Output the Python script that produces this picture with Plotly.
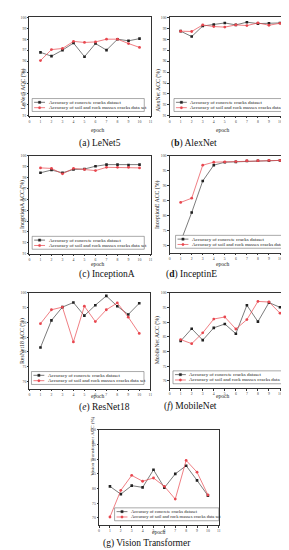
import plotly.graph_objects as go

epochs = list(range(1, 11))

lenet5_concrete = [96.8, 96.45, 97.0, 97.65, 96.4, 97.6, 97.0, 98.0, 97.85, 98.05]
lenet5_soil = [96.05, 97.05, 97.15, 97.8, 97.7, 97.75, 98.0, 98.0, 97.6, 97.25]
alexnet_concrete = [98.73, 98.24, 99.2, 99.33, 99.48, 99.3, 99.55, 99.42, 99.45, 99.48]
alexnet_soil = [98.73, 98.7, 99.3, 99.15, 99.1, 99.3, 99.24, 99.48, 99.27, 99.45]
inceptiona_concrete = [98.45, 98.7, 98.45, 98.75, 98.8, 99.05, 99.2, 99.2, 99.15, 99.2]
inceptiona_soil = [98.9, 98.85, 98.35, 98.85, 98.75, 98.65, 98.95, 98.95, 98.95, 98.9]
inceptione_concrete = [71.2, 81.0, 91.6, 96.9, 97.9, 98.0, 98.3, 98.4, 98.4, 98.5]
inceptione_soil = [84.4, 85.8, 96.9, 97.9, 98.0, 98.1, 98.4, 98.4, 98.5, 98.5]
resnet18_concrete = [81.5, 90.7, 95.2, 96.75, 92.3, 95.85, 99.0, 95.5, 92.7, 96.5]
resnet18_soil = [89.6, 94.3, 95.2, 83.4, 95.5, 90.3, 94.3, 96.6, 91.8, 86.3]
mobilenet_concrete = [83.6, 87.8, 83.9, 88.1, 89.4, 86.1, 95.8, 90.2, 96.7, 95.1]
mobilenet_soil = [84.1, 82.7, 86.4, 91.1, 91.8, 87.7, 90.9, 97.1, 96.9, 93.1]
vit_concrete = [80.75, 78.1, 81.0, 80.4, 86.4, 80.3, 85.0, 87.8, 82.8, 77.6]
vit_soil = [70.3, 79.4, 84.5, 82.5, 83.6, 80.75, 76.4, 89.6, 85.6, 77.8]

x_ticks = list(range(0, 12))
series_names = ["Accuracy of concrete cracks dataset",
                "Accuracy of soil and rock masses cracks data set"]

panels = [
    dict(c=lenet5_concrete, s=lenet5_soil, ytitle="LeNet5 ACC (%)", cap="(a) LeNet5",
         rng=[91, 100], dt=1, fx=(20.7, 143), fy=(7.3, 106.7), leg=2.7, epy=116.5, capy=127.5,
         tf=5.8, lf=5.0),
    dict(c=alexnet_concrete, s=alexnet_soil, ytitle="AlexNet ACC (%)", cap="(<b>b</b>) AlexNet",
         rng=[91, 100], dt=1, fx=(162.3, 285.0), fy=(7.3, 106.7), leg=4.4, epy=116.5, capy=127.5,
         tf=5.8, lf=5.0),
    dict(c=inceptiona_concrete, s=inceptiona_soil, ytitle="InceptionA ACC (%)", cap="(c) InceptionA",
         rng=[91, 100], dt=1, fx=(20.7, 143), fy=(147, 245.5), leg=2.7, epy=255.5, capy=266.5,
         tf=5.8, lf=5.0),
    dict(c=inceptione_concrete, s=inceptione_soil, ytitle="InceptionE ACC (%)", cap="(<b>d</b>) InceptinE",
         rng=[67.5, 100], dt=5, fx=(162.3, 285.0), fy=(147, 244.5), leg=6.0, epy=255.5, capy=266.5,
         tf=5.8, lf=5.0),
    dict(c=resnet18_concrete, s=resnet18_soil, ytitle="ResNet18 ACC (%)", cap="(<i>e</i>) ResNet18",
         rng=[67.5, 100], dt=5, fx=(20.7, 142.7), fy=(285, 381.7), leg=2.0, epy=392.5, capy=406.5,
         tf=5.8, lf=5.0),
    dict(c=mobilenet_concrete, s=mobilenet_soil, ytitle="MobileNet ACC (%)", cap="(<i>f</i>) MobileNet",
         rng=[67.5, 100], dt=5, fx=(162.3, 285.0), fy=(285, 381), leg=3.4, epy=392.5, capy=406,
         tf=5.8, lf=5.0),
    dict(c=vit_concrete, s=vit_soil, ytitle="Vision Transformer ACC (%)", cap="(g) Vision Transformer",
         rng=[67.5, 100], dt=5, fx=(91, 212), fy=(423, 519), leg=15.7, epy=530, capy=543.5,
         tf=5.0, lf=4.6),
]

W, H = 289, 550
FONT = "Liberation Serif"
BLACK = "#222222"
RED = "#e8474f"


def px(x):
    return x / W


def py(y):
    return 1 - y / H


fig = go.Figure()
layout = {}
annotations = []
shapes = []

for i, p in enumerate(panels):
    n = "" if i == 0 else str(i + 1)
    xa, ya = "x" + n, "y" + n
    fig.add_trace(go.Scatter(x=epochs, y=p["c"], xaxis=xa, yaxis=ya, mode="lines+markers",
                             name=series_names[0], showlegend=False,
                             line=dict(color="#444444", width=0.7),
                             marker=dict(symbol="square", size=2.6, color=BLACK)))
    fig.add_trace(go.Scatter(x=epochs, y=p["s"], xaxis=xa, yaxis=ya, mode="lines+markers",
                             name=series_names[1], showlegend=False,
                             line=dict(color=RED, width=0.7),
                             marker=dict(symbol="circle", size=2.8, color=RED)))
    x0, x1 = p["fx"]
    y0, y1 = p["fy"]
    axis_common = dict(showline=True, mirror=True, linecolor="#333333", linewidth=0.8,
                       ticks="outside", ticklen=1.5, tickwidth=0.5, tickcolor="#333333",
                       showgrid=False, zeroline=False,
                       tickfont=dict(family=FONT, size=3.8, color="#444444"))
    layout["xaxis" + n] = dict(domain=[px(x0), px(x1)], anchor=ya, range=[0, 11],
                               tickmode="array", tickvals=x_ticks, **axis_common)
    layout["yaxis" + n] = dict(domain=[py(y1), py(y0)], anchor=xa, range=p["rng"],
                               dtick=p["dt"], tick0=0, **axis_common)
    fcx = (x0 + x1) / 2
    annotations.append(dict(text=p["ytitle"], x=px(x0 - 12), y=py((y0 + y1) / 2), xref="paper",
                            yref="paper", textangle=-90, showarrow=False,
                            font=dict(family=FONT, size=p["tf"], color="#222222")))
    annotations.append(dict(text="epoch", x=px(fcx), y=py(p["epy"]), xref="paper", yref="paper",
                            showarrow=False, borderpad=0,
                            font=dict(family=FONT, size=5.5, color="#222222")))
    annotations.append(dict(text=p["cap"], x=px(fcx - 12), y=py(p["capy"]), xref="paper",
                            yref="paper", showarrow=False, borderpad=0,
                            font=dict(family=FONT, size=9.5, color="#111111")))
    # legend box
    lx0 = x0 + p["leg"]
    lx1 = x1 - 6.3 if i != 6 else x1
    ly1 = y1 - 4.5
    ly0 = ly1 - 13.0
    shapes.append(dict(type="rect", xref="paper", yref="paper", x0=px(lx0), x1=px(lx1),
                       y0=py(ly1), y1=py(ly0), line=dict(color="#555555", width=0.5),
                       fillcolor="white", layer="above"))
    for k, (col, lcol, sym) in enumerate([(BLACK, "#444444", "rect"), (RED, RED, "circle")]):
        ry = ly0 + 3.8 + k * 5.4
        shapes.append(dict(type="line", xref="paper", yref="paper", x0=px(lx0 + 2), x1=px(lx0 + 13),
                           y0=py(ry), y1=py(ry), line=dict(color=lcol, width=0.7), layer="above"))
        shapes.append(dict(type=sym, xref="paper", yref="paper", x0=px(lx0 + 6.3), x1=px(lx0 + 8.7),
                           y0=py(ry + 1.2), y1=py(ry - 1.2), line=dict(color=col, width=0.3),
                           fillcolor=col, layer="above"))
        annotations.append(dict(text=series_names[k], x=px(lx0 + 14.5), y=py(ry), xref="paper",
                                yref="paper", xanchor="left", yanchor="middle", showarrow=False,
                                font=dict(family=FONT, size=p["lf"], color="#222222")))

fig.update_layout(width=W, height=H, margin=dict(l=0, r=0, t=0, b=0),
                  paper_bgcolor="white", plot_bgcolor="white", showlegend=False,
                  annotations=annotations, shapes=shapes, **layout)

fig.write_html("out.html")
